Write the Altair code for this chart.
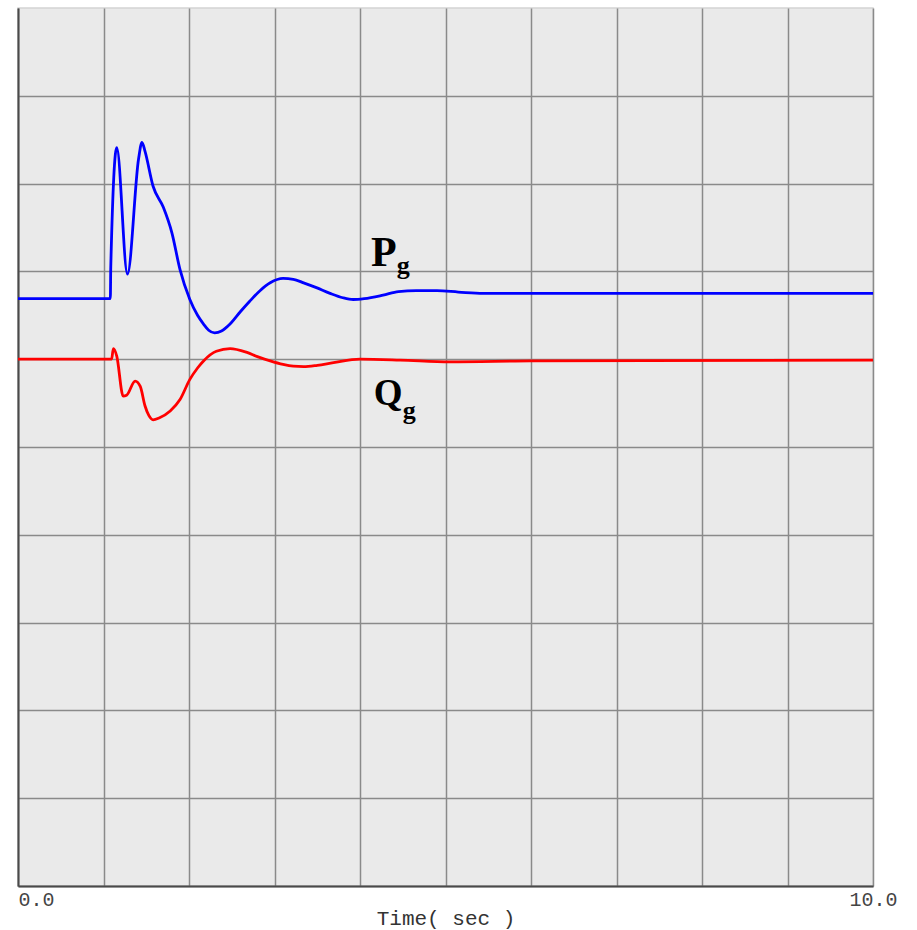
import altair as alt
import pandas as pd

# Generator active power P_g (time in s, value in grid units)
time_p = [0.0, 1.08, 1.085, 1.155, 1.28, 1.41, 1.45, 1.485, 1.58, 1.70, 1.80, 1.895,
          2.01, 2.10, 2.17, 2.23, 2.30, 2.38, 2.48, 2.60, 2.71, 2.83, 2.95, 3.10, 3.22,
          3.34, 3.49, 3.65, 3.80, 3.92, 4.05, 4.27, 4.45, 4.66, 4.90, 5.15, 5.44, 6.22, 10.0]
pg = [0.69, 0.69, 1.05, 2.41, 0.97, 2.28, 2.47, 2.37, 1.97, 1.73, 1.44, 1.02,
      0.68, 0.50, 0.40, 0.33, 0.30, 0.32, 0.40, 0.54, 0.66, 0.78, 0.87, 0.92, 0.91,
      0.87, 0.815, 0.75, 0.70, 0.68, 0.69, 0.73, 0.77, 0.78, 0.78, 0.765, 0.75, 0.75, 0.75]

# Generator reactive power Q_g
time_q = [0.0, 1.095, 1.115, 1.155, 1.23, 1.27, 1.37, 1.43, 1.485, 1.53, 1.58, 1.65,
          1.78, 1.895, 2.01, 2.10, 2.17, 2.32, 2.48, 2.67, 2.80, 2.95, 3.10, 3.22, 3.34,
          3.50, 3.69, 4.0, 4.47, 5.05, 6.0, 10.0]
qg = [0.0, 0.0, 0.12, 0.035, -0.42, -0.41, -0.25, -0.31, -0.53, -0.64, -0.69, -0.67,
      -0.59, -0.46, -0.23, -0.10, -0.02, 0.09, 0.12, 0.08, 0.03, -0.02, -0.06, -0.08, -0.085,
      -0.07, -0.04, 0.0, -0.01, -0.03, -0.02, -0.01]

# Curve labels
label_text = ["P", "g", "Q", "g"]
label_t = [4.13, 4.43, 4.16, 4.50]
label_v = [1.056, 0.97, -0.516, -0.68]
label_size = [42, 26, 37, 26]

x_ticks = list(range(0, 11))
y_grid = list(range(-6, 4))

df = pd.concat([
    pd.DataFrame({"t": time_p, "v": pg, "series": "Pg"}),
    pd.DataFrame({"t": time_q, "v": qg, "series": "Qg"}),
], ignore_index=True)

labels_df = pd.DataFrame({"text": label_text, "t": label_t, "v": label_v, "fs": label_size})

x_enc = alt.X(
    "t:Q",
    scale=alt.Scale(domain=[0, 10], nice=False, zero=False),
    axis=alt.Axis(
        values=x_ticks,
        labelExpr="datum.value == 0 || datum.value == 10 ? format(datum.value, '.1f') : ''",
        labelAlign={"expr": "datum.value < 5 ? 'left' : 'center'"},
        ticks=False,
        grid=True,
        gridColor="#8a8a8a",
        gridWidth=1.5,
        domainColor="#4a4a4a",
        domainWidth=2,
        labelFont="Liberation Mono",
        labelFontSize=20,
        labelColor="#444444",
        labelPadding=3,
        title="Time( sec )",
        titleFont="Liberation Mono",
        titleFontSize=21,
        titleFontWeight="normal",
        titleColor="#333333",
        titleBaseline="alphabetic",
        titleY=38,
    ),
)

y_enc = alt.Y(
    "v:Q",
    scale=alt.Scale(domain=[-6, 4], nice=False, zero=False),
    axis=alt.Axis(
        values=y_grid,
        labels=False,
        ticks=False,
        title=None,
        grid=True,
        gridColor="#8a8a8a",
        gridWidth=1.5,
        domainColor="#4a4a4a",
        domainWidth=2,
    ),
)

lines = alt.Chart(df).mark_line(strokeWidth=2.8, interpolate="monotone").encode(
    x=x_enc,
    y=y_enc,
    color=alt.Color("series:N",
                    scale=alt.Scale(domain=["Pg", "Qg"], range=["#0000FF", "#FF0000"]),
                    legend=None),
)

texts = alt.Chart(labels_df).mark_text(
    font="Liberation Serif", fontWeight="bold", align="left", baseline="alphabetic", color="#000000"
).encode(
    x=alt.X("t:Q"),
    y=alt.Y("v:Q"),
    text="text:N",
    size=alt.Size("fs:Q", scale=None, legend=None),
)

chart = alt.layer(lines, texts).properties(
    width=855,
    height=878,
    padding={"left": 18, "top": 8, "right": 44, "bottom": 44},
    autosize=alt.AutoSizeParams(type="none"),
    background="#ffffff",
).configure_view(
    fill="#EAEAEA",
    stroke="#d4d4d4",
    strokeWidth=1.5,
)

chart.save("out.html", embed_options={"renderer": "svg", "actions": False})
